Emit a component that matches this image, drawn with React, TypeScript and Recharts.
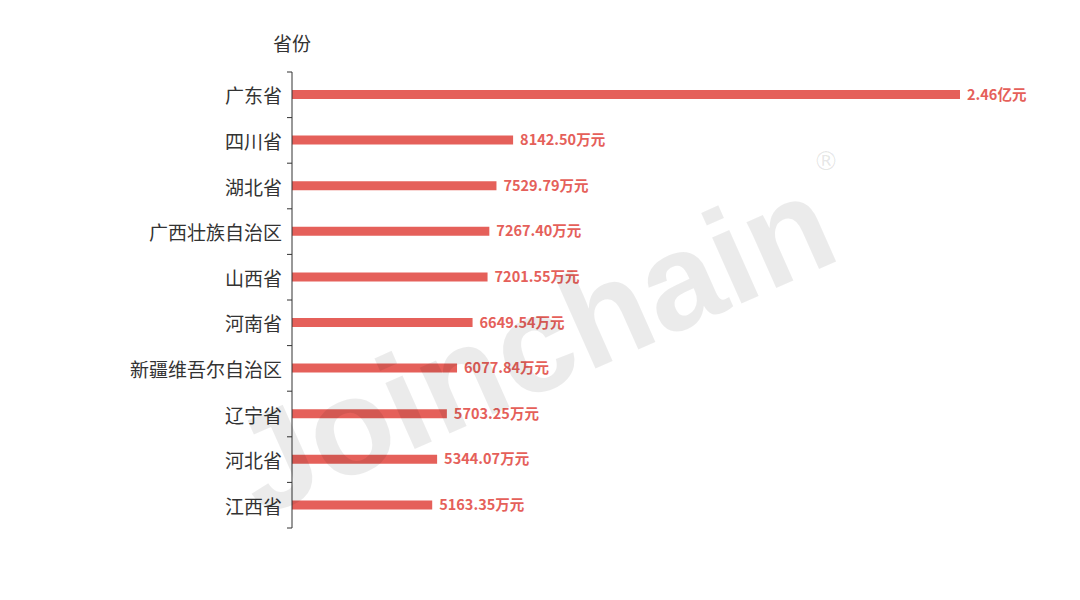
import React from 'react';
import { BarChart, Bar, XAxis, YAxis, LabelList } from 'recharts';

const provinces = ['广东省', '四川省', '湖北省', '广西壮族自治区', '山西省', '河南省', '新疆维吾尔自治区', '辽宁省', '河北省', '江西省'];
const values = [24600, 8142.5, 7529.79, 7267.4, 7201.55, 6649.54, 6077.84, 5703.25, 5344.07, 5163.35];
const valueLabels = ['2.46亿元', '8142.50万元', '7529.79万元', '7267.40万元', '7201.55万元', '6649.54万元', '6077.84万元', '5703.25万元', '5344.07万元', '5163.35万元'];
const axisTitle = '省份';

const data = provinces.map((name, i) => ({ name, value: values[i], label: valueLabels[i] }));

const W = 1080;
const H = 600;
const MARGIN = { top: 72, bottom: 72, left: 92, right: 120 };
const YW = 200;
const AXIS_X = MARGIN.left + YW;
const BAND = (H - MARGIN.top - MARGIN.bottom) / provinces.length;
const RED = '#e5605a';
const FONT = '"Noto Sans CJK SC", "Noto Sans", sans-serif';

const Tick = (props: any) => {
  const { y, payload, index } = props;
  const top = y - BAND / 2;
  return (
    <g>
      <line x1={AXIS_X} x2={AXIS_X - 5} y1={top} y2={top} stroke="#333" strokeWidth={1} />
      {index === provinces.length - 1 && (
        <line x1={AXIS_X} x2={AXIS_X - 5} y1={top + BAND} y2={top + BAND} stroke="#333" strokeWidth={1} />
      )}
      <text x={AXIS_X - 10} y={y} textAnchor="end" dominantBaseline="central" fontSize={19} fill="#333" fontFamily={FONT}>
        {payload.value}
      </text>
    </g>
  );
};

export default function App() {
  return (
    <div style={{ position: 'absolute', left: 0, top: 0, width: W, height: H, background: '#fff' }}>
      <BarChart width={W} height={H} data={data} layout="vertical" margin={MARGIN}>
        <XAxis type="number" hide domain={[0, 24600]} />
        <YAxis
          type="category"
          dataKey="name"
          width={YW}
          axisLine={{ stroke: '#333' }}
          tickLine={false}
          tick={<Tick />}
          interval={0}
        />
        <Bar dataKey="value" fill={RED} barSize={9} isAnimationActive={false}>
          <LabelList
            dataKey="label"
            position="right"
            offset={7}
            fill={RED}
            fontSize={14.5}
            fontWeight="bold"
            fontFamily={FONT}
          />
        </Bar>
      </BarChart>
      <div
        style={{
          position: 'absolute',
          left: AXIS_X - 60,
          top: 30,
          width: 120,
          textAlign: 'center',
          fontSize: 19,
          color: '#333',
          fontFamily: FONT,
          lineHeight: '26px',
        }}
      >
        {axisTitle}
      </div>
      <svg width={W} height={H} style={{ position: 'absolute', left: 0, top: 0, pointerEvents: 'none' }}>
        <text
          x={552}
          y={388}
          textAnchor="middle"
          fontSize={137}
          fontWeight="bold"
          fontFamily='"Liberation Sans", Arial, sans-serif'
          fill="rgba(0,0,0,0.08)"
          transform="rotate(-24 552 388)"
        >
          Joinchain
        </text>
        <text x={826} y={170} textAnchor="middle" fontSize={26} fontFamily='"DejaVu Sans", sans-serif' fill="rgba(0,0,0,0.1)">
          ®
        </text>
      </svg>
    </div>
  );
}
